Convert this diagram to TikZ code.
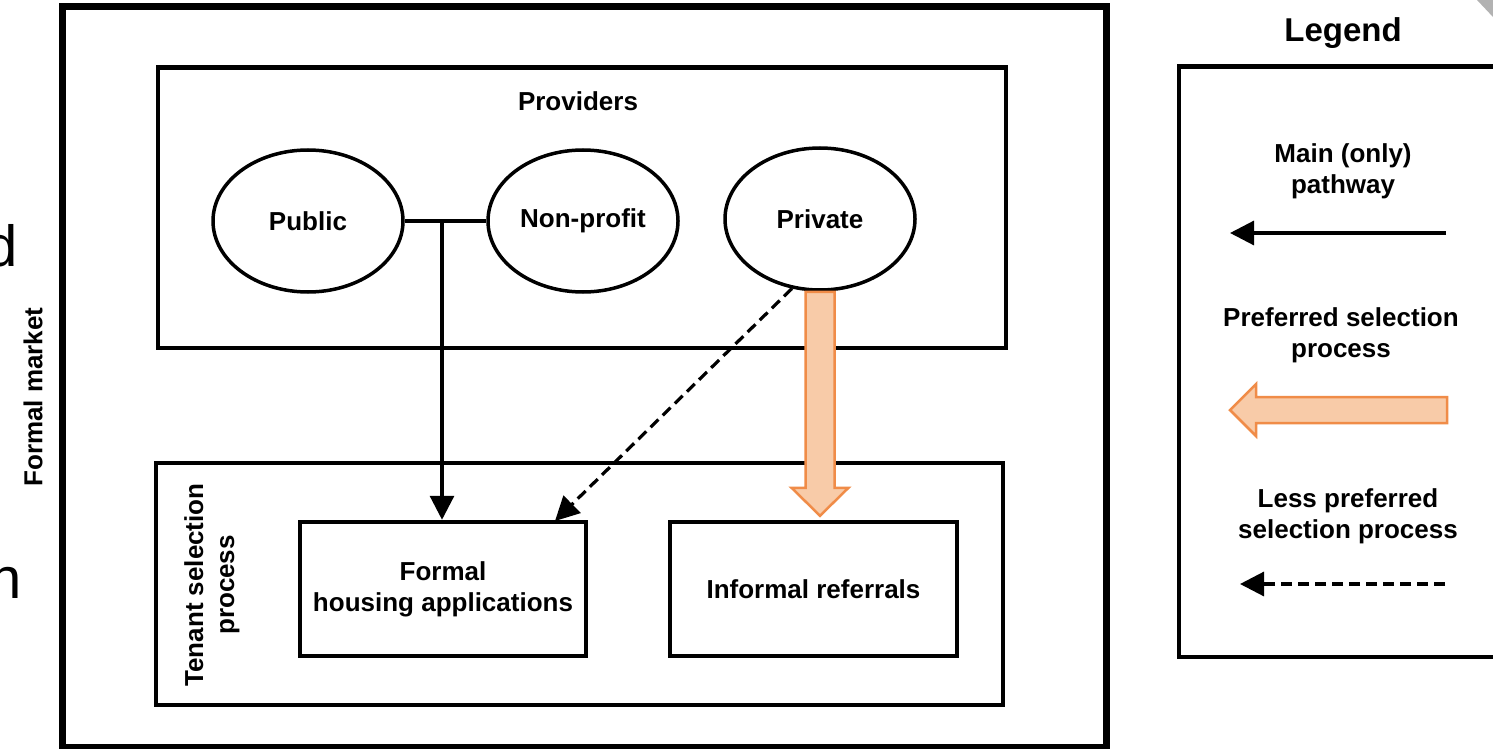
\documentclass[tikz,border=0pt]{standalone}
\usepackage{fontspec}
\setmainfont{Liberation Sans}
\usetikzlibrary{shapes.geometric,arrows.meta,calc}
\definecolor{peachfill}{RGB}{248,203,168}
\definecolor{peachdraw}{RGB}{240,140,72}
\begin{document}
\begin{tikzpicture}[x=1pt,y=-1pt,
  lbl/.style={font=\bfseries\fontsize{26}{31}\selectfont, align=center, inner sep=0pt},
  frame/.style={draw, line width=4.5pt, inner sep=0pt},
  oval/.style={draw, ellipse, line width=3.5pt, minimum width=190pt, minimum height=142pt, inner sep=0pt, font=\bfseries\fontsize{26}{31}\selectfont},
  mainarrow/.style={line width=3.2pt, -{Triangle[length=24pt,width=24pt]}},
  lessarrow/.style={line width=3.2pt, dash pattern=on 11pt off 6pt, -{Triangle[length=24pt,width=24pt]}},
  prefarrow/.style={fill=peachfill, draw=peachdraw, line width=2.5pt, line join=miter}]
\useasboundingbox (0,0) rectangle (1493,749);
\clip (0,0) rectangle (1493,749);
\fill[white] (0,0) rectangle (1493,749);
% page corner
\fill[gray!60] (1477,0) -- (1493,0) -- (1493,17) -- cycle;
% cut-off letters at the left edge
\node[anchor=base east, inner sep=0pt, font=\fontsize{58}{60}\selectfont] (cutd) at (18,266) {d};
\node[anchor=base east, inner sep=0pt, font=\fontsize{58}{60}\selectfont] (cutn) at (22,598) {n};
% outer frame
\node[draw, line width=7pt, inner sep=0pt, minimum width=1044pt, minimum height=740.5pt] (outer) at (584,376.75) {};
\node[lbl, rotate=90] (fm) at (33,397) {Formal market};
% providers
\node[frame, minimum width=848pt, minimum height=280.5pt] (prov) at (582,207.75) {};
\node[lbl] (provlbl) at (578,101) {Providers};
\node[oval] (public) at (308,221) {Public};
\node[oval] (nonprofit) at (583,221) {Non-profit};
\node[oval] (private) at (820,219) {Private};
% tenant selection
\node[frame, minimum width=847pt, minimum height=242pt] (tenant) at (579.5,584) {};
\node[lbl, rotate=90] (tenlbl) at (212,585) {Tenant selection\\process};
\node[frame, minimum width=286pt, minimum height=134pt, lbl] (formal) at (443,589) {Formal\\housing applications};
\node[frame, minimum width=287pt, minimum height=134pt, lbl] (informal) at (813.5,589) {Informal referrals};
% connectors
\draw[line width=3.2pt] (public.east) -- (nonprofit.west);
\coordinate (junc) at (442,221);
\draw[mainarrow] (junc) -- (junc |- formal.north);
\coordinate (dashend) at (555,521);
\draw[lessarrow] (private.248) -- (dashend);
\coordinate (oa) at (private.south);
\coordinate (ob) at ($(oa |- informal.north)+(0,-4)$);
\filldraw[prefarrow] ($(oa)+(-14.5,0)$) -- ($(ob)+(-14.5,-28)$) -- ($(ob)+(-28.5,-28)$) -- (ob) -- ($(ob)+(28.5,-28)$) -- ($(ob)+(14.5,-28)$) -- ($(oa)+(14.5,0)$) -- cycle;
% legend
\node[lbl, font=\bfseries\fontsize{33}{38}\selectfont] (legtitle) at (1343,33) {Legend};
\draw[line width=4.5pt] (1520,66.5) -- (1179,66.5) -- (1179,657) -- (1520,657);
\node[lbl] (l1) at (1343,171) {Main (only)\\pathway};
\coordinate (l1a) at (1446,233);
\coordinate (l1b) at (1230,233);
\draw[mainarrow] (l1a) -- (l1b);
\node[lbl] (l2) at (1341,335) {Preferred selection\\process};
\coordinate (l2a) at (1447,410);
\coordinate (l2b) at (1230,410);
\filldraw[prefarrow] ($(l2a)+(0,-13)$) -- ($(l2b)+(26,-13)$) -- ($(l2b)+(26,-26)$) -- (l2b) -- ($(l2b)+(26,26)$) -- ($(l2b)+(26,13)$) -- ($(l2a)+(0,13)$) -- cycle;
\node[lbl] (l3) at (1348,516) {Less preferred\\selection process};
\coordinate (l3a) at (1445,584);
\coordinate (l3b) at (1240,584);
\draw[lessarrow] (l3a) -- (l3b);
\end{tikzpicture}
\end{document}
